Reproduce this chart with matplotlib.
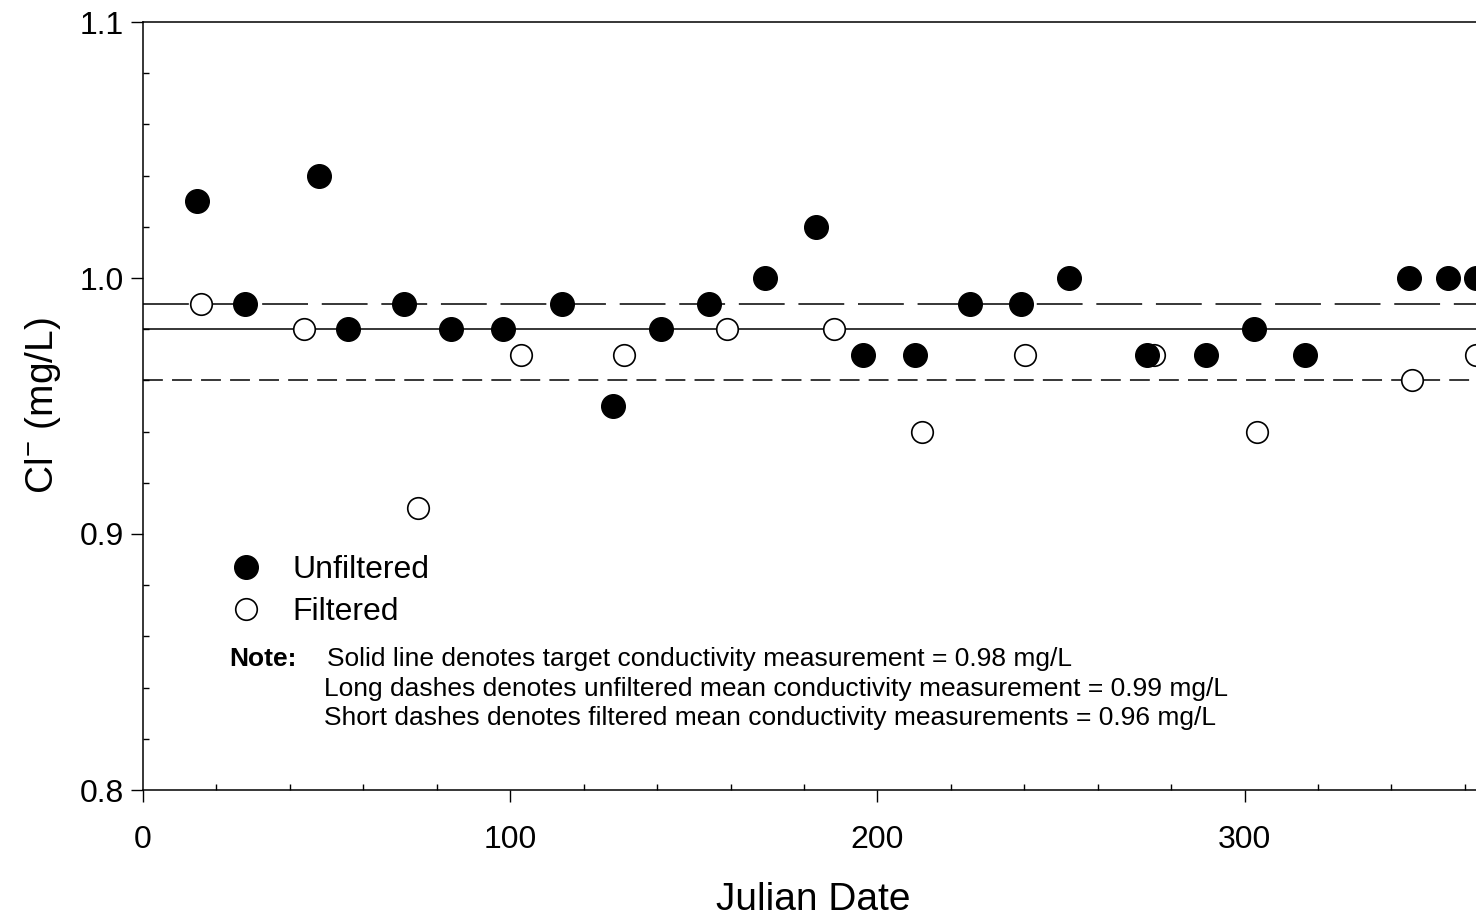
import matplotlib
matplotlib.use("Agg")
import matplotlib.pyplot as plt
from matplotlib.ticker import MultipleLocator
from matplotlib.lines import Line2D

plt.rcParams['font.family'] = ['Liberation Sans', 'DejaVu Sans']

# Data
unf_x = [14.7, 27.8, 47.9, 55.8, 71.1, 83.9, 98.0, 114.1, 128.0, 141.1, 154.1, 169.4,
         183.3, 196.1, 210.2, 225.2, 239.1, 252.2, 273.4, 289.5, 302.6, 316.4, 344.8,
         355.4, 363.0]
unf_y = [1.03, 0.99, 1.04, 0.98, 0.99, 0.98, 0.98, 0.99, 0.95, 0.98, 0.99, 1.00,
         1.02, 0.97, 0.97, 0.99, 0.99, 1.00, 0.97, 0.97, 0.98, 0.97, 1.00,
         1.00, 1.00]
fil_x = [15.8, 43.8, 74.9, 102.9, 131.0, 159.0, 188.2, 212.1, 240.2, 275.3, 303.4, 345.6, 363.0]
fil_y = [0.99, 0.98, 0.91, 0.97, 0.97, 0.98, 0.98, 0.94, 0.97, 0.97, 0.94, 0.96, 0.97]
target = 0.98
unf_mean = 0.99
fil_mean = 0.96

fig = plt.figure(figsize=(14.76, 9.21), dpi=100)
ax = fig.add_axes([143/1476, 1-790/921, (365*3.672)/1476, (790-22)/921])

ax.axhline(target, color='black', lw=1.1, zorder=1)
ax.axhline(unf_mean, color='black', lw=1.1, dashes=(30, 9), zorder=1)
ax.axhline(fil_mean, color='black', lw=1.1, dashes=(13, 6), zorder=1)

ax.plot(fil_x, fil_y, 'o', ms=15.5, mfc='white', mec='black', mew=1.2, zorder=3, clip_on=False)
ax.plot(unf_x, unf_y, 'o', ms=17, mfc='black', mec='black', zorder=4, clip_on=False)

ax.set_xlim(0, 365)
ax.set_ylim(0.8, 1.1)
ax.xaxis.set_major_locator(MultipleLocator(100))
ax.xaxis.set_minor_locator(MultipleLocator(20))
ax.yaxis.set_major_locator(MultipleLocator(0.1))
ax.yaxis.set_minor_locator(MultipleLocator(0.02))
ax.yaxis.set_major_formatter(matplotlib.ticker.FormatStrFormatter('%.1f'))
ax.xaxis.set_major_formatter(matplotlib.ticker.FormatStrFormatter('%d'))
ax.tick_params(which='major', direction='out', length=8.5, width=1.0, labelsize=23)
ax.tick_params(which='minor', direction='in', length=4.5, width=1.0)
ax.tick_params(axis='x', which='major', pad=17)
ax.tick_params(axis='y', which='major', pad=5)
for s in ax.spines.values():
    s.set_linewidth(1.1)
ax.spines['right'].set_visible(False)

ax.set_xlabel('Julian Date', fontsize=28, labelpad=19)
ax.set_ylabel('Cl$^{\\mathregular{-}}$ (mg/L)', fontsize=28, labelpad=12)

handles = [Line2D([], [], ls='none', marker='o', ms=17, mfc='black', mec='black'),
           Line2D([], [], ls='none', marker='o', ms=15.5, mfc='white', mec='black', mew=1.2)]
ax.legend(handles, ['Unfiltered', 'Filtered'], loc='upper left',
          bbox_to_anchor=((222-143)/(365*3.672), 1-(555-22)/768), frameon=False,
          fontsize=23, handletextpad=0.7, labelspacing=0.38, handlelength=1.5,
          borderaxespad=0, borderpad=0)

def fx(px):
    return px/1476
def fy(py):
    return 1-py/921

fig.text(fx(229), fy(659), 'Note:', fontsize=19, fontweight='bold', va='center', ha='left')
fig.text(fx(327), fy(659), 'Solid line denotes target conductivity measurement = 0.98 mg/L',
         fontsize=19, va='center', ha='left')
fig.text(fx(324), fy(689), 'Long dashes denotes unfiltered mean conductivity measurement = 0.99 mg/L',
         fontsize=19, va='center', ha='left')
fig.text(fx(324), fy(718), 'Short dashes denotes filtered mean conductivity measurements = 0.96 mg/L',
         fontsize=19, va='center', ha='left')

fig.savefig('out.png', dpi=100)
